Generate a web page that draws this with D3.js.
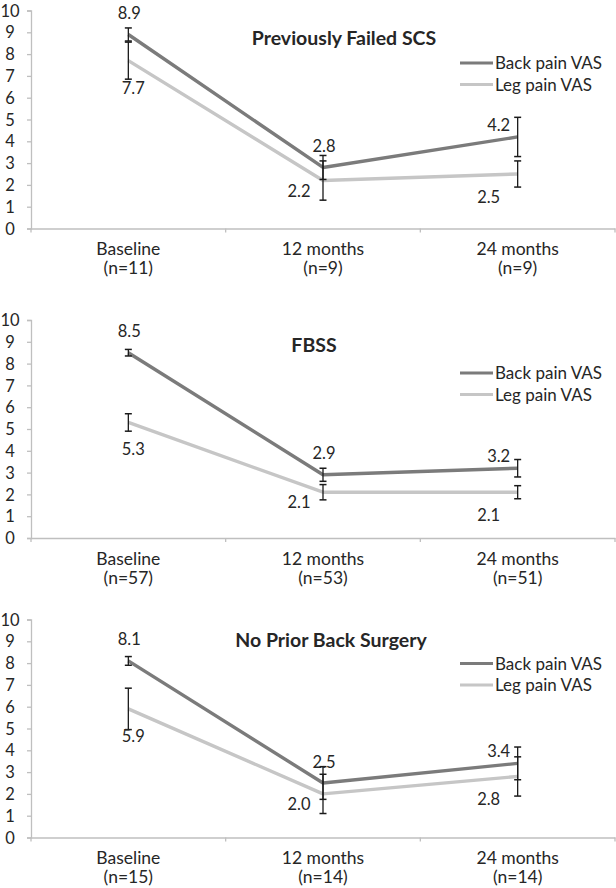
<!DOCTYPE html>
<html>
<head>
<meta charset="utf-8">
<script src="https://cdn.jsdelivr.net/npm/d3@7"></script>
<style>
  html, body { margin: 0; padding: 0; background: #fff; }
  svg { display: block; }
  text { font-family: Lato, "Open Sans", sans-serif; fill: #262626; }
</style>
</head>
<body>
<svg id="chart" width="616" height="888"></svg>
<script>
// ---- data ----
const categories = ["Baseline", "12 months", "24 months"];
const panelTitles = ["Previously Failed SCS", "FBSS", "No Prior Back Surgery"];
const sampleSizes = [
  ["(n=11)", "(n=9)", "(n=9)"],
  ["(n=57)", "(n=53)", "(n=51)"],
  ["(n=15)", "(n=14)", "(n=14)"]
];
const seriesNames = ["Back pain VAS", "Leg pain VAS"];
const backPain = [
  [8.9, 2.8, 4.2],
  [8.5, 2.9, 3.2],
  [8.1, 2.5, 3.4]
];
const legPain = [
  [7.7, 2.2, 2.5],
  [5.3, 2.1, 2.1],
  [5.9, 2.0, 2.8]
];
const backErr = [
  [0.3, 0.55, 0.9],
  [0.15, 0.3, 0.4],
  [0.2, 0.75, 0.75]
];
const legErr = [
  [0.85, 0.9, 0.6],
  [0.4, 0.35, 0.3],
  [0.95, 0.9, 0.9]
];
const yTickValues = [0, 1, 2, 3, 4, 5, 6, 7, 8, 9, 10];

// ---- layout / style ----
const axisLeft = 31, axisRight = 615;
const panelTops = [10.5, 320, 619.5];
const panelHeight = 218;
const titleX = [344, 314, 331];
const titleDy = [34.5, 32, 27];
const legendDy = [52.5, 53, 44];
const colors = ["#7b7b7b", "#c6c6c6"];
// label placement: back series / leg series per category
const backPlace = ["t", "t", "tl"];
const legPlace = ["b", "l", "bl"];

const svg = d3.select("#chart");

panelTitles.forEach((title, p) => {
  const top = panelTops[p];
  const g = svg.append("g");
  const x = d3.scaleBand().domain(categories).range([axisLeft, axisRight]);
  const y = d3.scaleLinear().domain([0, 10]).range([top + panelHeight, top]);

  // y axis
  const yAxis = d3.axisLeft(y).tickValues(yTickValues).tickSize(4).tickPadding(0).tickFormat(d3.format("d"));
  const ya = g.append("g").attr("transform", `translate(${axisLeft},0)`).call(yAxis);
  ya.select(".domain").attr("stroke", "#bfbfbf").attr("stroke-width", 1.3);
  ya.selectAll(".tick line").attr("stroke", "#bfbfbf").attr("stroke-width", 1.3);
  ya.selectAll(".tick text").attr("x", -21).attr("dy", "0.34em").attr("text-anchor", "middle")
    .style("font-size", "16.5px").style("font-family", "Lato, 'Open Sans', sans-serif").attr("fill", "#262626");

  // x axis
  const xa = g.append("g").attr("transform", `translate(0,${y(0)})`)
    .call(d3.axisBottom(x).tickSize(0).tickFormat(""));
  xa.select(".domain").attr("stroke", "#bfbfbf").attr("stroke-width", 1.5);
  const bounds = categories.map(c => x(c)).concat([axisRight]);
  xa.selectAll(".bt").data(bounds).enter().append("line")
    .attr("x1", d => d).attr("x2", d => d).attr("y1", 0).attr("y2", 4)
    .attr("stroke", "#bfbfbf").attr("stroke-width", 1.3);

  // category labels
  categories.forEach((c, i) => {
    const cx = x(c) + x.bandwidth() / 2;
    g.append("text").attr("x", cx).attr("y", y(0) + 26.5).attr("text-anchor", "middle")
      .style("font-size", "17.5px").text(c);
    g.append("text").attr("x", cx).attr("y", y(0) + 45.5).attr("text-anchor", "middle")
      .style("font-size", "17.5px").text(sampleSizes[p][i]);
  });

  const cxOf = c => x(c) + x.bandwidth() / 2;
  const line = d3.line().x((d, i) => cxOf(categories[i])).y(d => y(d));
  const series = [backPain[p], legPain[p]];
  const errs = [backErr[p], legErr[p]];

  series.forEach((vals, s) => {
    g.append("path").datum(vals).attr("d", line)
      .attr("fill", "none").attr("stroke", colors[s]).attr("stroke-width", 3.4)
      .attr("stroke-linejoin", "round");
  });

  // error bars
  series.forEach((vals, s) => {
    vals.forEach((v, i) => {
      const cx = cxOf(categories[i]);
      const e = errs[s][i];
      const y1 = y(v + e), y2 = y(v - e);
      g.append("line").attr("x1", cx).attr("x2", cx).attr("y1", y1).attr("y2", y2)
        .attr("stroke", "#1a1a1a").attr("stroke-width", 1.3);
      [y1, y2].forEach(yy => g.append("line").attr("x1", cx - 3.5).attr("x2", cx + 3.5)
        .attr("y1", yy).attr("y2", yy).attr("stroke", "#1a1a1a").attr("stroke-width", 1.5));
    });
  });

  // data labels
  const place = (pos, cx, cy) => {
    switch (pos) {
      case "t": return [cx + 1, cy - 15.5];
      case "b": return [cx + 5, cy + 33];
      case "l": return [cx - 24, cy + 16];
      case "tl": return [cx - 19, cy - 6];
      case "bl": return [cx - 29, cy + 28.5];
    }
  };
  [[backPain[p], backPlace], [legPain[p], legPlace]].forEach(([vals, pl]) => {
    vals.forEach((v, i) => {
      const cx = cxOf(categories[i]);
      const [lx, ly] = place(pl[i], cx, y(v));
      g.append("text").attr("x", lx).attr("y", ly).attr("text-anchor", "middle")
        .style("font-size", "16.5px").text(d3.format(".1f")(v));
    });
  });

  // title
  g.append("text").attr("x", titleX[p]).attr("y", top + titleDy[p]).attr("text-anchor", "middle")
    .style("font-size", "19.5px").style("font-weight", "bold").attr("fill", "#111").text(title);

  // legend
  seriesNames.forEach((name, s) => {
    const ly = top + legendDy[p] + s * 21.5;
    g.append("line").attr("x1", 460).attr("x2", 493).attr("y1", ly).attr("y2", ly)
      .attr("stroke", colors[s]).attr("stroke-width", 3);
    g.append("text").attr("x", 495).attr("y", ly + 6).style("font-size", "17px").text(name);
  });
});
</script>
</body>
</html>
